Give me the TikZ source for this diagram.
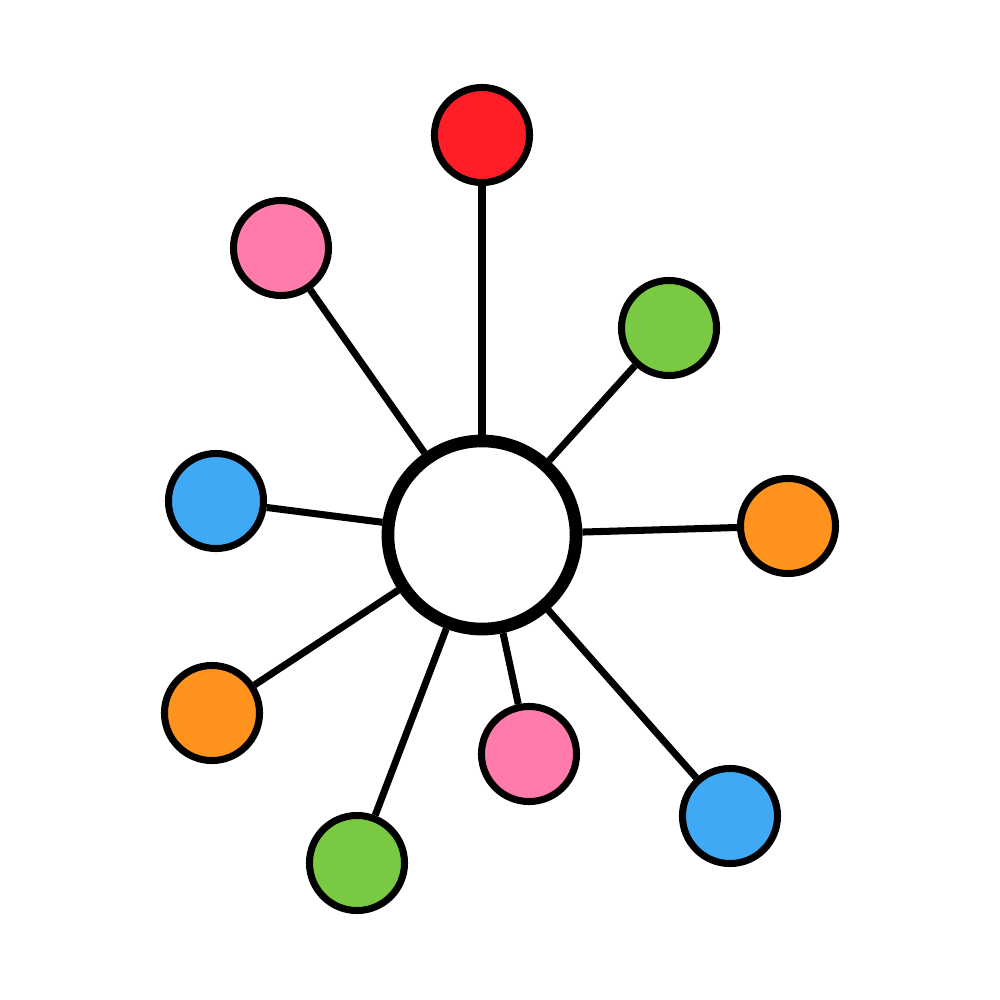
\documentclass[tikz,border=0pt]{standalone}
\definecolor{dotred}{HTML}{FF1E28}
\definecolor{dotpink}{HTML}{FF7BAC}
\definecolor{dotgreen}{HTML}{7AC943}
\definecolor{dotblue}{HTML}{3FA9F5}
\definecolor{dotorange}{HTML}{FF931E}
\tikzset{
  dot/.style={circle,draw=black,line width=2pt,minimum size=0.95cm,inner sep=0pt},
  hub/.style={circle,draw=black,line width=3.6pt,fill=white,minimum size=1.88cm,inner sep=0pt},
  spoke/.style={line width=2pt,black}
}
\begin{document}
\begin{tikzpicture}[x=0.01cm,y=-0.01cm]
		\useasboundingbox (0,0) rectangle (1000,1000);
		\node[hub] (hub) at (482,535) {};
		\foreach \n/\x/\y/\c in {top/482/135/dotred, tl/281/248/dotpink, tr/669/328/dotgreen,
		    left/216/501/dotblue, right/788/526/dotorange, bl/212/713/dotorange,
		    bot/357/863/dotgreen, bm/529/754/dotpink, br/730/816/dotblue}{
		  \node[dot,fill=\c] (\n) at (\x,\y) {};
		  \draw[spoke] (hub) -- (\n);
		}
		%\node[hub] at (482,535) {};
		\end{tikzpicture}
\end{document}
